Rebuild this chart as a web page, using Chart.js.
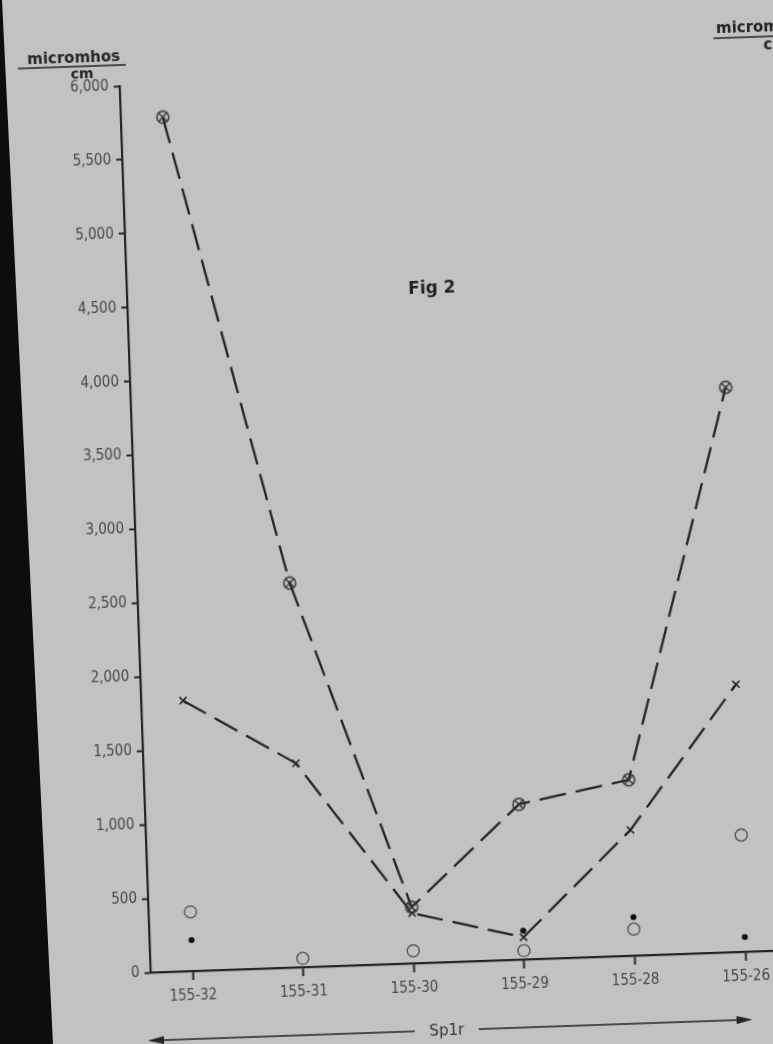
<!DOCTYPE html>
<html>
<head>
<meta charset="utf-8">
<title>Fig 2</title>
<script src="https://cdn.jsdelivr.net/npm/chart.js@4"></script>
<style>
    html, body {
        margin: 0;
        padding: 0;
        width: 773px;
        height: 1044px;
        overflow: hidden;
        background: #c2c2c0;
    }
    /* the photo is slightly turned, so the whole sheet is rotated */
    #sheet {
        position: absolute;
        left: -40px;
        top: -40px;
        width: 853px;
        height: 1124px;
        transform: rotate(-2deg);
        transform-origin: 50% 50%;
    }
    /* dark page edge on the left of the photo */
    #edge {
        position: absolute;
        left: 0;
        top: 0;
        width: 60px;
        height: 1044px;
        background: #0d0d0d;
        clip-path: polygon(0 0, 2px 0, 53px 1044px, 0 1044px);
    }
</style>
</head>
<body>
<div id="sheet"><canvas id="figChart"></canvas></div>
<div id="edge"></div>

<script>
// Stations along the Sp1r traverse
const stations = ['155-32', '155-31', '155-30', '155-29', '155-28', '155-26'];

// Conductance readings, micromhos/cm
const circledCrossValues = [5780, 2600, 380, 1050, 1190, 3820];
const crossValues = [1830, 1380, 340, 150, 850, 1810];
const openCircleValues = [400, 60, 85, 60, 180, 790];
const dotValues = [210, null, null, 195, 260, 100];

// y axis ticks
const yMin = 0;
const yMax = 6000;
const yStep = 500;

const ink = '#242424';
const tickFont = { family: '"DejaVu Sans Condensed", "DejaVu Sans", sans-serif', size: 15 };

function toPoints(values) {
    return values.map((v, i) => ({ x: i, y: v }));
}

// circle with an x inside, used as marker for the top series
function circledCross() {
    const c = document.createElement('canvas');
    c.width = 16;
    c.height = 16;
    const g = c.getContext('2d');
    g.strokeStyle = '#2e2e2e';
    g.lineWidth = 1.4;
    g.beginPath();
    g.arc(8, 8, 6, 0, Math.PI * 2);
    g.stroke();
    g.beginPath();
    g.moveTo(4, 4); g.lineTo(12, 12);
    g.moveTo(12, 4); g.lineTo(4, 12);
    g.stroke();
    return c;
}

// extra texts and the Sp1r arrow
const decorations = {
    id: 'decorations',
    afterDraw(chart) {
        const ctx = chart.ctx;
        ctx.save();
        ctx.fillStyle = ink;
        ctx.strokeStyle = ink;

        // y axis unit
        ctx.font = 'bold 15px "DejaVu Sans", sans-serif';
        ctx.textAlign = 'center';
        ctx.textBaseline = 'middle';
        ctx.fillText('micromhos', 130, 88);
        ctx.lineWidth = 1.4;
        ctx.beginPath();
        ctx.moveTo(74, 96);
        ctx.lineTo(182, 96);
        ctx.stroke();
        ctx.font = 'bold 14px "DejaVu Sans", sans-serif';
        ctx.fillText('cm', 138, 104);

        // unit of the next figure, cut off at the right
        ctx.font = 'bold 15px "DejaVu Sans", sans-serif';
        ctx.textAlign = 'left';
        ctx.fillText('micromhos', 773, 81);
        ctx.beginPath();
        ctx.moveTo(770, 90);
        ctx.lineTo(880, 90);
        ctx.stroke();
        ctx.textAlign = 'center';
        ctx.fillText('cm', 832, 99);

        // figure label
        ctx.font = 'bold 17px "DejaVu Sans", sans-serif';
        ctx.fillText('Fig 2', 480, 331);

        // Sp1r arrow under the axis
        const y = 1072;
        const x1 = 172, x2 = 773, xm = 469;
        ctx.font = '15px "DejaVu Sans", sans-serif';
        ctx.fillStyle = '#333';
        ctx.fillText('Sp1r', xm, y + 1);
        ctx.lineWidth = 1.6;
        ctx.beginPath();
        ctx.moveTo(x1, y); ctx.lineTo(xm - 32, y);
        ctx.moveTo(xm + 32, y); ctx.lineTo(x2 - 10, y);
        ctx.stroke();
        ctx.fillStyle = ink;
        ctx.beginPath();
        ctx.moveTo(x1 - 2, y); ctx.lineTo(x1 + 14, y - 4); ctx.lineTo(x1 + 14, y + 4);
        ctx.closePath();
        ctx.fill();
        ctx.beginPath();
        ctx.moveTo(x2 + 2, y); ctx.lineTo(x2 - 14, y - 4); ctx.lineTo(x2 - 14, y + 4);
        ctx.closePath();
        ctx.fill();

        ctx.restore();
    }
};

const ctx = document.getElementById('figChart').getContext('2d');

new Chart(ctx, {
    type: 'line',
    data: {
        datasets: [
            {
                label: 'circled cross',
                data: toPoints(circledCrossValues),
                borderColor: ink,
                borderWidth: 2.3,
                borderDash: [27, 10],
                pointStyle: circledCross(),
                pointRadius: 7,
                tension: 0
            },
            {
                label: 'cross',
                data: toPoints(crossValues),
                borderColor: ink,
                borderWidth: 2.3,
                borderDash: [26, 10],
                pointStyle: 'crossRot',
                pointRadius: 5,
                pointBorderWidth: 1.6,
                pointBorderColor: ink,
                tension: 0
            },
            {
                label: 'open circle',
                data: toPoints(openCircleValues),
                showLine: false,
                pointStyle: 'circle',
                pointRadius: 6,
                pointBorderWidth: 1.4,
                pointBorderColor: '#555',
                pointBackgroundColor: 'rgba(0,0,0,0)'
            },
            {
                label: 'dot',
                data: toPoints(dotValues),
                showLine: false,
                pointStyle: 'circle',
                pointRadius: 3,
                pointBorderWidth: 0,
                pointBackgroundColor: '#111'
            }
        ]
    },
    options: {
        responsive: true,
        maintainAspectRatio: false,
        animation: false,
        layout: {
            padding: { left: 0, right: 53, top: 117, bottom: 80 }
        },
        scales: {
            x: {
                type: 'linear',
                min: -0.38,
                max: 5.27,
                afterBuildTicks: (scale) => {
                    scale.ticks = stations.map((_, i) => ({ value: i }));
                },
                afterFit: (scale) => { scale.height = 40; },
                border: { display: true, color: ink, width: 2.2 },
                grid: {
                    drawOnChartArea: false,
                    drawTicks: true,
                    tickLength: 9,
                    tickWidth: 2,
                    tickColor: ink
                },
                ticks: {
                    padding: 7,
                    color: '#474747',
                    font: tickFont,
                    maxRotation: 0,
                    callback: (v) => stations[v]
                }
            },
            y: {
                min: yMin,
                max: yMax,
                afterFit: (scale) => { scale.width = 175; },
                border: { display: true, color: ink, width: 2.2 },
                grid: {
                    drawOnChartArea: false,
                    drawTicks: true,
                    tickLength: 6,
                    tickWidth: 2,
                    tickColor: ink
                },
                ticks: {
                    stepSize: yStep,
                    padding: 5,
                    color: '#474747',
                    font: tickFont,
                    callback: (v) => v.toLocaleString('en-US')
                }
            }
        },
        plugins: {
            legend: { display: false },
            tooltip: { enabled: false }
        }
    },
    plugins: [decorations]
});
</script>
</body>
</html>
